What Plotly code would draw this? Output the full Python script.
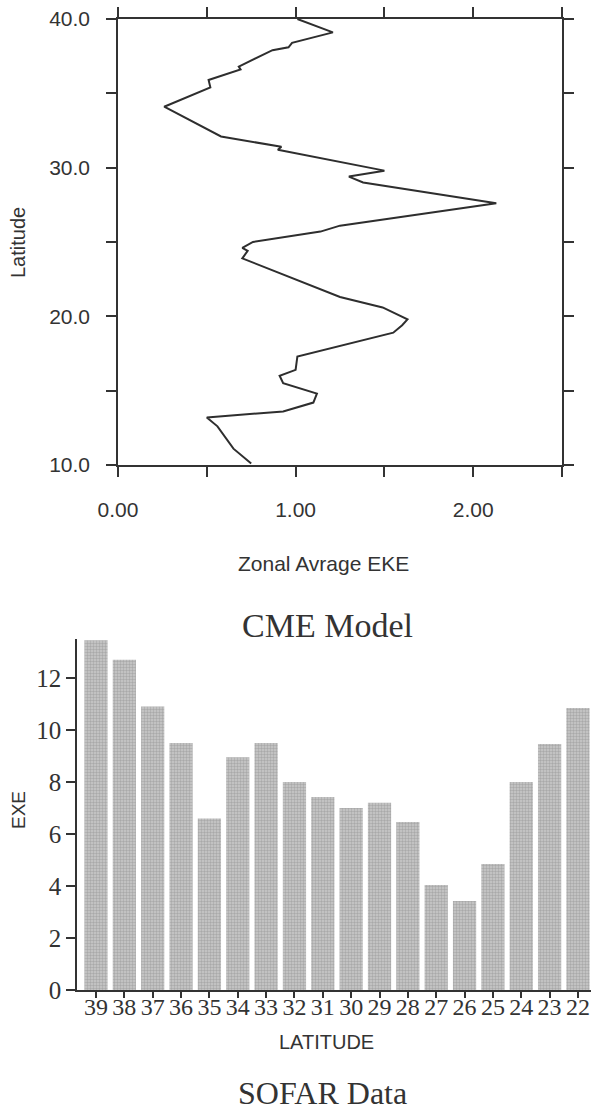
import plotly.graph_objects as go

# ---- Top panel: CME Model zonal average EKE vs latitude ----
cme_eke = [1.01, 1.21, 0.98, 0.96, 0.87, 0.68, 0.69, 0.51, 0.52, 0.26,
           0.58, 0.92, 0.90, 1.50, 1.30, 1.38, 2.13, 1.25, 1.14, 0.76,
           0.70, 0.73, 0.70, 1.25, 1.49, 1.63, 1.60, 1.55, 1.01, 1.00,
           0.91, 0.93, 1.12, 1.10, 0.93, 0.50, 0.56, 0.65, 0.75]
cme_lat = [40.0, 39.1, 38.4, 38.1, 37.9, 36.8, 36.6, 35.9, 35.4, 34.1,
           32.1, 31.4, 31.2, 29.8, 29.4, 29.0, 27.6, 26.1, 25.7, 25.0,
           24.6, 24.4, 23.9, 21.3, 20.6, 19.8, 19.4, 18.9, 17.3, 16.4,
           16.0, 15.5, 14.8, 14.2, 13.6, 13.2, 12.6, 11.1, 10.1]
top_xtick_vals = [0.0, 0.5, 1.0, 1.5, 2.0, 2.5]
top_xtick_text = ["0.00", "", "1.00", "", "2.00", ""]
top_ytick_vals = [10, 15, 20, 25, 30, 35, 40]
top_ytick_text = ["10.0", "", "20.0", "", "30.0", "", "40.0"]

# ---- Bottom panel: SOFAR data ----
sofar_lat = ["39", "38", "37", "36", "35", "34", "33", "32", "31", "30",
             "29", "28", "27", "26", "25", "24", "23", "22"]
sofar_exe = [13.45, 12.7, 10.9, 9.5, 6.6, 8.95, 9.5, 8.0, 7.42, 7.0,
             7.2, 6.46, 4.04, 3.42, 4.85, 8.0, 9.46, 10.85]
bot_ytick_vals = [0, 2, 4, 6, 8, 10, 12]

W, H = 591, 1111
INK = "#333333"
SANS = "Liberation Sans, Arial, sans-serif"
SERIF = "Liberation Serif, Times New Roman, serif"

def px(x):
    return x / W

def py(y):
    return 1 - y / H

fig = go.Figure()

fig.add_trace(go.Scatter(
    x=cme_eke, y=cme_lat, mode="lines",
    line=dict(color="#2e2e2e", width=2),
    xaxis="x", yaxis="y", showlegend=False,
))

fig.add_trace(go.Bar(
    x=sofar_lat, y=sofar_exe,
    marker=dict(
        color="#b8b8b8",
        line=dict(width=0),
        pattern=dict(shape=".", fgcolor="#888888", bgcolor="#cacaca",
                     size=3, solidity=0.5),
    ),
    xaxis="x2", yaxis="y2", showlegend=False, cliponaxis=True,
))

axis_common = dict(showgrid=False, zeroline=False, showline=True,
                   linecolor=INK, linewidth=1.5, ticks="outside",
                   tickcolor=INK, tickwidth=1.5, automargin=False)

fig.update_layout(
    width=W, height=H,
    margin=dict(l=0, r=0, t=0, b=0, pad=0),
    paper_bgcolor="white", plot_bgcolor="white",
    bargap=0.18,
    xaxis=dict(
        **axis_common,
        domain=[px(118), px(562)], anchor="y",
        range=[0, 2.5], mirror="ticks", ticklen=10,
        tickmode="array",
        tickvals=top_xtick_vals, ticktext=top_xtick_text,
        tickfont=dict(family=SANS, size=21, color=INK),
        ticklabelstandoff=15,
    ),
    yaxis=dict(
        **axis_common,
        domain=[py(465), py(19)], anchor="x",
        range=[10, 40], mirror="ticks", ticklen=10,
        tickmode="array",
        tickvals=top_ytick_vals, ticktext=top_ytick_text,
        tickfont=dict(family=SANS, size=21, color=INK),
        ticklabelstandoff=12,
    ),
    xaxis2=dict(
        **axis_common,
        domain=[px(77), 1.0], anchor="y2",
        type="category", range=[-0.67, 17.46], ticklen=6,
        tickmode="array", tickvals=sofar_lat, ticktext=sofar_lat,
        tickfont=dict(family=SERIF, size=24, color=INK),
        ticklabelstandoff=-12,
    ),
    yaxis2=dict(
        **axis_common,
        domain=[py(990), py(639)], anchor="x2",
        range=[0, 13.5], ticklen=9,
        tickmode="array", tickvals=bot_ytick_vals,
        tickfont=dict(family=SERIF, size=25, color=INK),
    ),
)

annos = [
    dict(text="Latitude", x=px(18), y=py(243), textangle=-90,
         font=dict(family=SANS, size=20, color=INK)),
    dict(text="Zonal Avrage EKE", x=px(323), y=py(563),
         font=dict(family=SANS, size=21, color=INK)),
    dict(text="CME Model", x=px(327), y=py(625),
         font=dict(family=SERIF, size=34, color=INK)),
    dict(text="EXE", x=px(18), y=py(810), textangle=-90,
         font=dict(family=SANS, size=19, color=INK)),
    dict(text="LATITUDE", x=px(326), y=py(1042),
         font=dict(family=SANS, size=20, color=INK)),
    dict(text="SOFAR Data", x=px(322), y=py(1093),
         font=dict(family=SERIF, size=32, color=INK)),
]
for a in annos:
    fig.add_annotation(xref="paper", yref="paper", showarrow=False,
                       xanchor="center", yanchor="middle", **a)

fig.write_html("out.html")
